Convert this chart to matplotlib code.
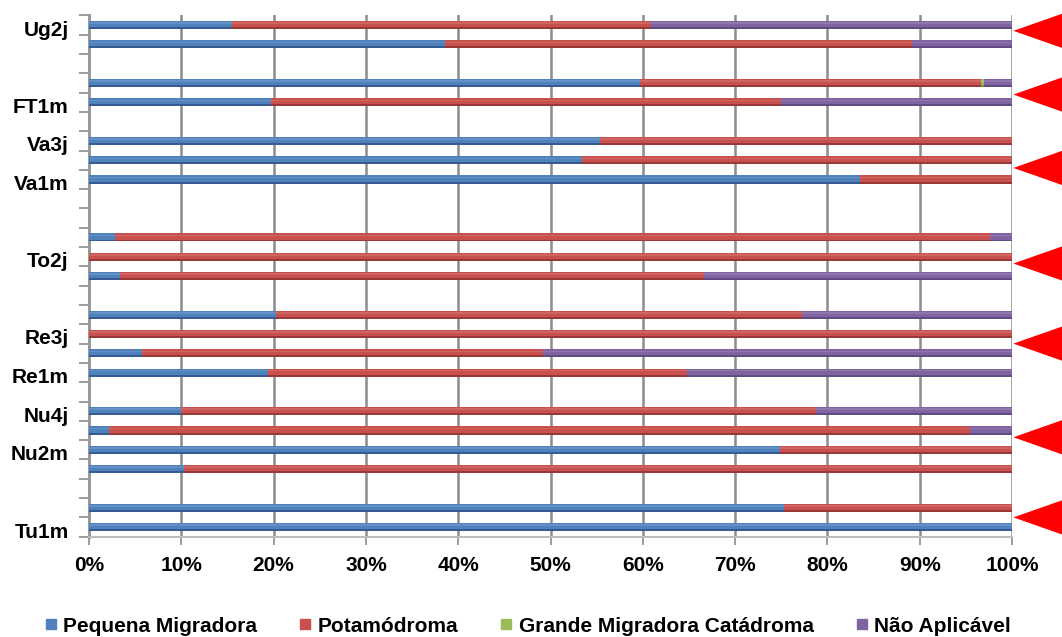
import matplotlib.pyplot as plt
from matplotlib.lines import Line2D
from matplotlib.patches import Polygon
import matplotlib.transforms as mtransforms

plt.rcParams['font.family'] = ['Liberation Sans', 'DejaVu Sans']
plt.rcParams['font.weight'] = 'bold'

# rows from bottom to top; blank names are rows without a visible label
rows = ["Tu1m", "", "", "", "Nu2m", "", "Nu4j", "", "Re1m", "", "Re3j", "", "", "",
        "To2j", "", "", "", "Va1m", "", "Va3j", "", "FT1m", "", "", "", "Ug2j"]

pequena = [100, 75.3, 0, 10.3, 74.9, 2.2, 10.0, 0, 19.4, 5.7, 0, 20.3, 0, 3.4,
           0, 2.8, 0, 0, 83.5, 53.4, 55.4, 0, 19.7, 59.7, 0, 38.6, 15.5]
potamodroma = [0, 24.7, 0, 89.7, 25.1, 93.2, 68.8, 0, 45.4, 43.5, 100, 56.9, 0, 63.2,
               100, 94.8, 0, 0, 16.5, 46.6, 44.6, 0, 55.3, 36.9, 0, 50.6, 45.4]
catadroma = [0, 0, 0, 0, 0, 0, 0, 0, 0, 0, 0, 0, 0, 0,
             0, 0, 0, 0, 0, 0, 0, 0, 0, 0.4, 0, 0, 0]
nao_aplicavel = [0, 0, 0, 0, 0, 4.6, 21.2, 0, 35.2, 50.8, 0, 22.8, 0, 33.4,
                 0, 2.4, 0, 0, 0, 0, 0, 0, 25.0, 3.0, 0, 10.8, 39.1]

series = [("Pequena Migradora", pequena, '#4F81BD', '#2F5285'),
          ("Potamódroma", potamodroma, '#C8504D', '#8E3432'),
          ("Grande Migradora Catádroma", catadroma, '#9BBB59', '#6E8A3A'),
          ("Não Aplicável", nao_aplicavel, '#8064A2', '#58457A')]

# red pointers on the right edge, at the middle of each site group
pointer_rows = [0.5, 4.65, 9.5, 13.65, 18.6, 22.4, 25.7]

fig = plt.figure(figsize=(10.62, 6.37), dpi=100)
fig.set_facecolor('#FFFFFF')
ax = fig.add_axes([89 / 1062, 1 - 536.7 / 637, 923 / 1062, (536.7 - 15.4) / 637])

y = list(range(len(rows)))
left = [0] * len(rows)
for name, vals, color, dark in series:
    ax.barh(y, vals, left=left, height=0.42, color=color, edgecolor='none', zorder=3)
    # darker lower rim gives the bars a rounded look
    ax.barh([v - 0.16 for v in y], vals, left=left, height=0.1, color=dark,
            edgecolor='none', alpha=0.8, zorder=4)
    ax.barh([v + 0.1 for v in y], vals, left=left, height=0.08, color='white',
            edgecolor='none', alpha=0.12, zorder=4)
    left = [a + b for a, b in zip(left, vals)]

ax.set_xlim(0, 100)
ax.set_ylim(-0.5, len(rows) - 0.5)

ax.set_xticks(range(0, 101, 10))
ax.set_xticklabels([f"{t}%" for t in range(0, 101, 10)], fontsize=15, fontweight='bold')
ax.set_yticks(y)
ax.set_yticklabels(rows, fontsize=15, fontweight='bold')
ax.set_yticks([v - 0.5 for v in range(len(rows) + 1)], minor=True)
ax.tick_params(axis='y', which='major', length=0, pad=14.5)
ax.tick_params(axis='y', which='minor', length=7, width=1.2, color='#8C8C8C')
ax.tick_params(axis='x', length=6, width=1.2, color='#8C8C8C', pad=8)

# labels sit a little below their rows
shift = mtransforms.ScaledTranslation(0, -3 / 100, fig.dpi_scale_trans)
for lab in ax.get_yticklabels():
    lab.set_transform(lab.get_transform() + shift)

ax.grid(axis='x', color='#8C8C8C', linewidth=1.8, zorder=1)
for s in ['top', 'right']:
    ax.spines[s].set_visible(False)
ax.spines['left'].set_color('#9A9A9A')
ax.spines['left'].set_linewidth(2.2)
ax.spines['bottom'].set_color('#BDBDBD')
ax.spines['bottom'].set_linewidth(1.5)

trans = mtransforms.blended_transform_factory(ax.transData, ax.transData)
for r in pointer_rows:
    tri = Polygon([(100.15, r), (107.3, r + 1.2), (107.3, r - 1.2)], closed=True,
                  facecolor='#FF0000', edgecolor='none', clip_on=False, zorder=6,
                  transform=trans)
    ax.add_patch(tri)

handles = [Line2D([], [], marker='s', linestyle='none', markersize=7,
                  markerfacecolor=c, markeredgecolor=c) for _, _, c, _ in series]
fig.legend(handles, [s[0] for s in series], loc='center', ncol=4,
           bbox_to_anchor=(0.497, 1 - 626 / 637), frameon=False,
           prop={'size': 15, 'weight': 'bold'}, handlelength=0.6,
           handletextpad=0.3, columnspacing=2.0)

fig.savefig('out.png', dpi=100, facecolor='white')
